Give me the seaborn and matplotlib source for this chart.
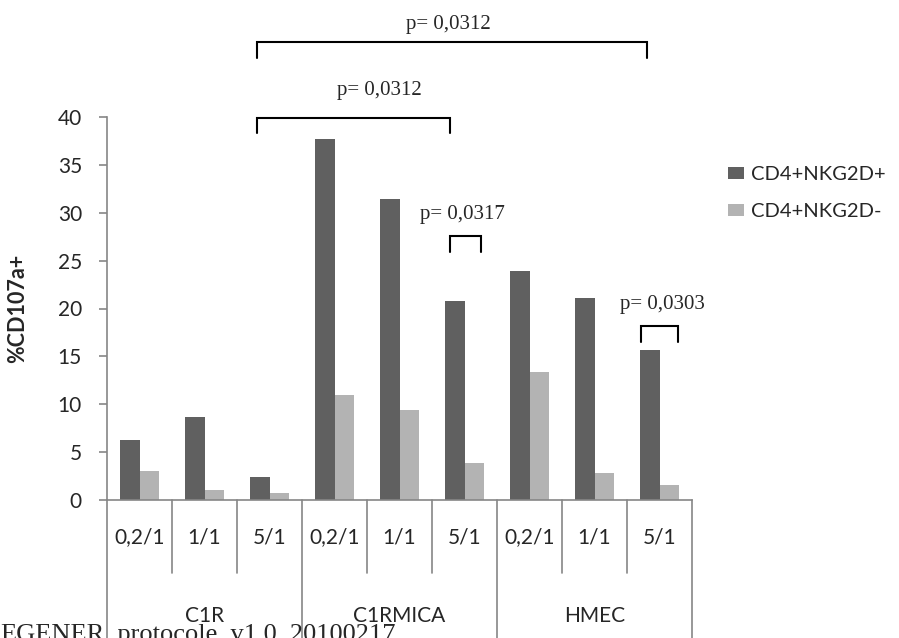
import matplotlib
matplotlib.use("Agg")
import matplotlib.pyplot as plt
import seaborn as sns
import pandas as pd
import numpy as np

groups = ["C1R", "C1RMICA", "HMEC"]
ratios = ["0,2/1", "1/1", "5/1"]
series = ["CD4+NKG2D+", "CD4+NKG2D-"]
pos_vals = [6.3, 8.7, 2.4, 37.7, 31.4, 20.8, 23.9, 21.1, 15.7]
neg_vals = [3.0, 1.05, 0.7, 11.0, 9.4, 3.9, 13.4, 2.8, 1.6]
pvals = ["p= 0,0312", "p= 0,0312", "p= 0,0317", "p= 0,0303"]

cats = [f"{g}|{r}" for g in groups for r in ratios]
df = pd.DataFrame({
    "cat": cats * 2,
    "val": pos_vals + neg_vals,
    "series": [series[0]] * 9 + [series[1]] * 9,
})

sns.set_theme(style="white")
plt.rcParams["font.family"] = ["Lato", "DejaVu Sans"]

W, H = 899, 638
fig = plt.figure(figsize=(W / 100, H / 100), dpi=100)
ax = fig.add_axes([107 / W, 1 - 500 / H, (692 - 107) / W, (500 - 117) / H])

sns.barplot(data=df, x="cat", y="val", hue="series", order=cats,
            palette=["#606060", "#b3b3b3"], width=0.6, saturation=1,
            ax=ax, linewidth=0)

ax.set_xlim(-0.5, 8.5)
ax.set_ylim(0, 40)
ax.set_yticks(range(0, 41, 5))
ax.set_xticks([])
ax.set_xlabel("")
ax.set_ylabel("%CD107a+", fontsize=15.5, fontweight="bold")
ax.yaxis.set_label_coords((28 - 107) / 585, 0.5)
for s in ["top", "right"]:
    ax.spines[s].set_visible(False)
for s in ["left", "bottom"]:
    ax.spines[s].set_color("#868686")
    ax.spines[s].set_linewidth(1.2)
ax.tick_params(axis="y", length=6, width=1.2, color="#868686", labelsize=15,
               left=True, pad=12)

trans = ax.get_xaxis_transform()
# separators
for b in range(10):
    x = b - 0.5
    y0 = -0.365 if b % 3 == 0 else -0.19
    ax.plot([x, x], [0, y0], transform=trans, color="#868686", lw=1.2,
            clip_on=False)
for i, c in enumerate(cats):
    ax.text(i, -0.097, ratios[i % 3], transform=trans, ha="center",
            va="center", fontsize=15)
for g, name in enumerate(groups):
    ax.text(3 * g + 1, -0.303, name, transform=trans, ha="center",
            va="center", fontsize=15)

# significance brackets: x0, x1, top, bottom, text x, text y
brackets = [
    (1.80, 7.80, 47.8, 46.2, 4.75, 49.7),
    (1.80, 4.78, 39.9, 38.3, 3.69, 42.8),
    (4.78, 5.26, 27.6, 25.9, 4.97, 29.8),
    (7.72, 8.28, 18.2, 16.5, 8.04, 20.4),
]
for (x0, x1, yt, yb, xt, ytxt), p in zip(brackets, pvals):
    ax.plot([x0, x0, x1, x1], [yb, yt, yt, yb], color="black", lw=1.5,
            clip_on=False, solid_joinstyle="miter")
    ax.text(xt, ytxt, p, ha="center", va="center", fontsize=15,
            family=["Liberation Serif", "DejaVu Serif"], clip_on=False)

sns.move_legend(ax, loc="upper left", bbox_to_anchor=(728 / W, 1 - 166 / H),
                bbox_transform=fig.transFigure, frameon=False, title=None,
                fontsize=14.5, labelspacing=1.0, handlelength=0.8,
                handleheight=0.6, handletextpad=0.35, borderpad=0,
                borderaxespad=0)

fig.text(0, -3 / H, "EGENER_protocole_v1.0_20100217", ha="left",
         va="baseline", fontsize=19,
         family=["Liberation Serif", "DejaVu Serif"])

fig.savefig("out.png", dpi=100)
